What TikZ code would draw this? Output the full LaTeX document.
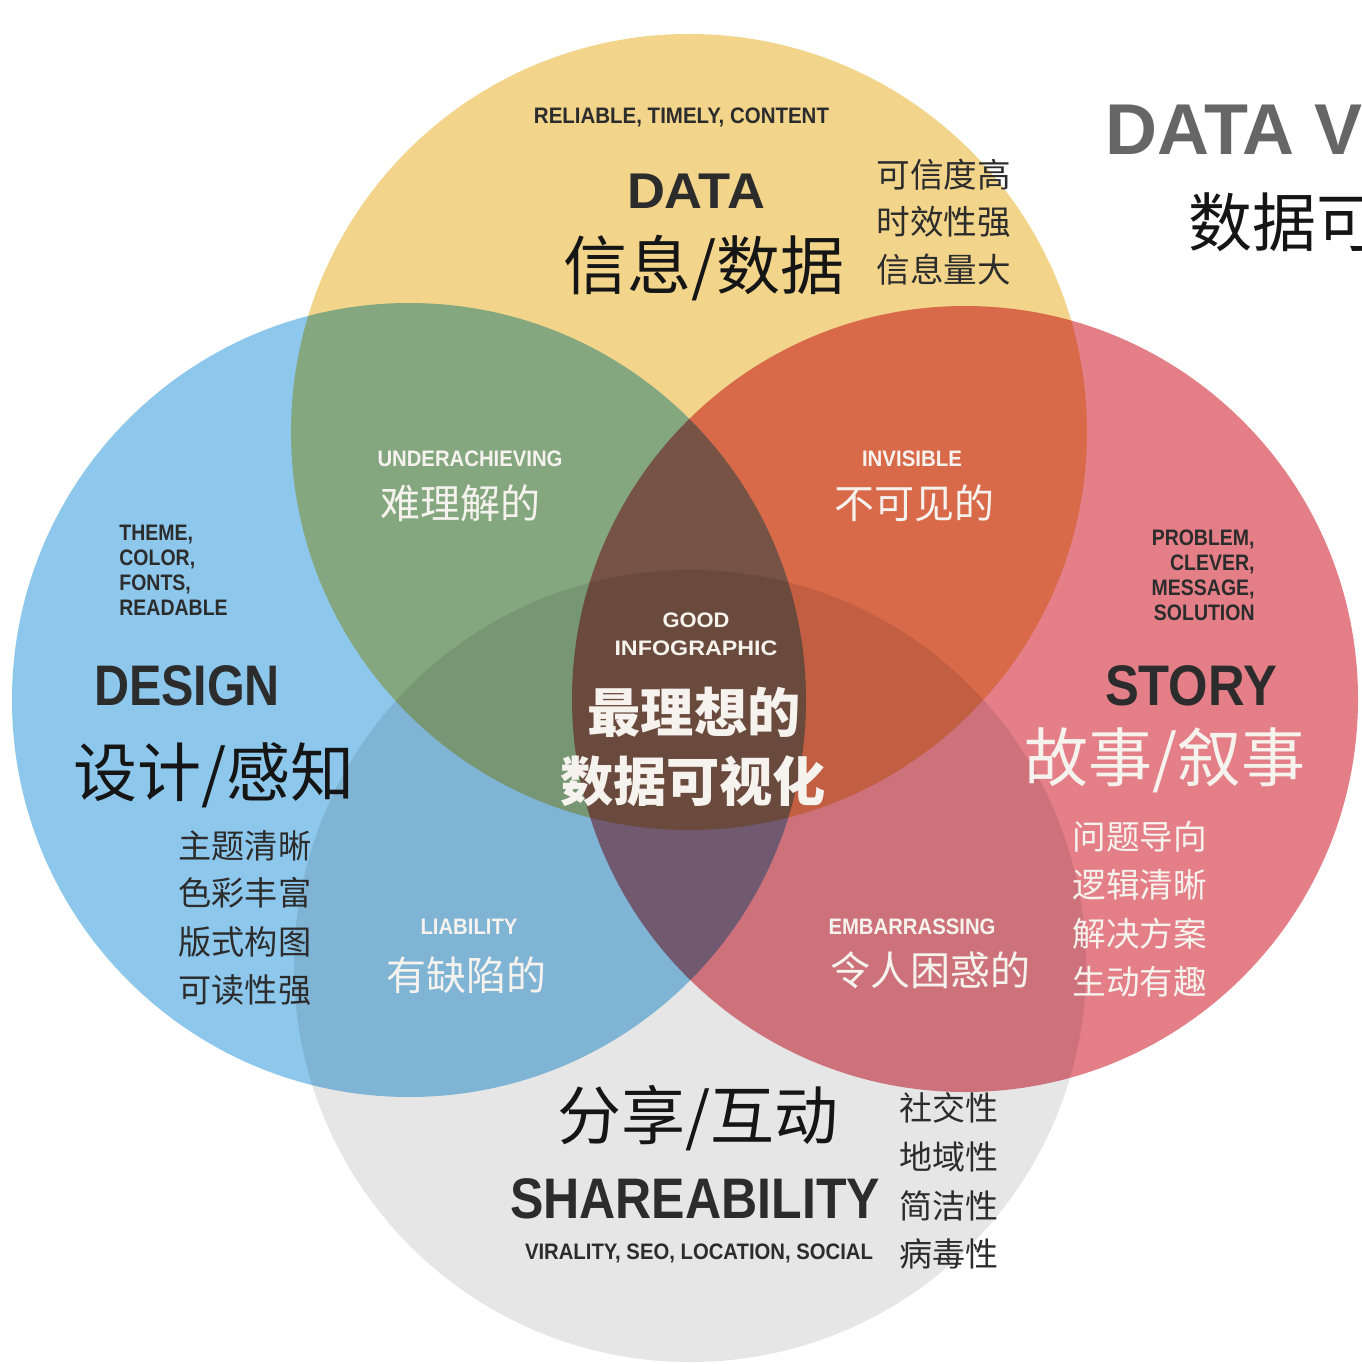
\documentclass[tikz,border=0pt]{standalone}
\usepackage{fontspec}
\usepackage{graphicx}
\setmainfont{Liberation Sans}
\newfontfamily\cjk{Noto Sans CJK SC}
\definecolor{cyel}{HTML}{F2D58B}
\definecolor{cblu}{HTML}{8DC8EC}
\definecolor{cred}{HTML}{E47F88}
\definecolor{cgry}{HTML}{E6E6E6}
\definecolor{txtd}{HTML}{2C2C2C}
\definecolor{txtk}{HTML}{151515}
\definecolor{txtw}{HTML}{F6F3EF}
\definecolor{txtg}{HTML}{666666}
\newcommand\fitw[2]{\resizebox{#1}{\height}{#2}}
\tikzset{
  venn/.style={circle, inner sep=0pt, minimum size=#1},
  en/.style={inner sep=0pt, anchor=base},
  sm/.style={en, font=\bfseries\fontsize{11.2}{13}\selectfont},
  big/.style={en, font=\bfseries\fontsize{28.6}{32}\selectfont},
  zh/.style={inner sep=0pt, font=\cjk\fontsize{#1}{#1}\selectfont},
  zhb/.style={inner sep=0pt, font=\cjk\bfseries\fontsize{#1}{#1}\selectfont},
}
\begin{document}
\begin{tikzpicture}[x=0.5pt,y=-0.5pt]
\useasboundingbox (0,0) rectangle (1361,1364);
\clip (0,0) rectangle (1361,1364);
\fill[white] (0,0) rectangle (1361,1364);
\begin{scope}[blend group=multiply]
  \node[venn=398pt, fill=cyel] (cdata) at (689,432) {};
  \node[venn=397pt, fill=cblu] (cdesign) at (409,700) {};
  \node[venn=393pt, fill=cred] (cstory) at (965,699) {};
  \node[venn=396pt, fill=cgry] (cshare) at (690,966) {};
\end{scope}

% DATA
\node[sm, text=txtd] (rel) at (681.5,124) {\fitw{147.5pt}{RELIABLE, TIMELY, CONTENT}};
\node[en, font=\bfseries\fontsize{25.1}{28}\selectfont, text=txtd] (data) at (696,208) {\fitw{69pt}{DATA}};
\node[zh=32, text=txtk] (datazh) at (704,268) {信息/数据};
\node[zh=16.8, anchor=west, text=txtd] (d1) at (876,175) {可信度高};
\node[zh=16.8, anchor=west, text=txtd] (d2) at (876,222) {时效性强};
\node[zh=16.8, anchor=west, text=txtd] (d3) at (876,270) {信息量大};

% title
\node[en, anchor=base west, font=\bfseries\fontsize{36}{40}\selectfont, text=txtg] (title) at (1105,155) {DATA V};
\node[zh=32, anchor=west, text=txtk] (titlezh) at (1188,222) {数据可};

% DATA-DESIGN, DATA-STORY
\node[sm, text=txtw] (under) at (470,466) {\fitw{92.5pt}{UNDERACHIEVING}};
\node[zh=20, text=txtw] (underzh) at (460,503) {难理解的};
\node[sm, text=txtw] (invis) at (912,466) {\fitw{50pt}{INVISIBLE}};
\node[zh=20, text=txtw] (inviszh) at (914,503) {不可见的};

% DESIGN
\node[sm, anchor=base west, text=txtd] (t1) at (119,540) {\scalebox{0.87}[1]{THEME,}};
\node[sm, anchor=base west, text=txtd] (t2) at (119,565) {\scalebox{0.87}[1]{COLOR,}};
\node[sm, anchor=base west, text=txtd] (t3) at (119,590) {\scalebox{0.87}[1]{FONTS,}};
\node[sm, anchor=base west, text=txtd] (t4) at (119,615) {\scalebox{0.87}[1]{READABLE}};
\node[big, text=txtd] (design) at (187,705) {\fitw{93pt}{DESIGN}};
\node[zh=32, text=txtk] (designzh) at (214,775) {设计/感知};
\node[zh=16.6, anchor=west, text=txtd] (g1) at (178,846) {主题清晰};
\node[zh=16.6, anchor=west, text=txtd] (g2) at (178,893) {色彩丰富};
\node[zh=16.6, anchor=west, text=txtd] (g3) at (178,942) {版式构图};
\node[zh=16.6, anchor=west, text=txtd] (g4) at (178,990) {可读性强};

% STORY
\node[sm, anchor=base east, text=txtd] (p1) at (1255,545) {\scalebox{0.87}[1]{PROBLEM,}};
\node[sm, anchor=base east, text=txtd] (p2) at (1255,570) {\scalebox{0.87}[1]{CLEVER,}};
\node[sm, anchor=base east, text=txtd] (p3) at (1255,595) {\scalebox{0.87}[1]{MESSAGE,}};
\node[sm, anchor=base east, text=txtd] (p4) at (1255,620) {\scalebox{0.87}[1]{SOLUTION}};
\node[big, text=txtd] (story) at (1191,705) {\fitw{86pt}{STORY}};
\node[zh=32, text=txtw] (storyzh) at (1165,760) {故事/叙事};
\node[zh=16.8, anchor=west, text=txtw] (s1) at (1072,837) {问题导向};
\node[zh=16.8, anchor=west, text=txtw] (s2) at (1072,885) {逻辑清晰};
\node[zh=16.8, anchor=west, text=txtw] (s3) at (1072,934) {解决方案};
\node[zh=16.8, anchor=west, text=txtw] (s4) at (1072,982) {生动有趣};

% centre
\node[en, font=\bfseries\fontsize{10.5}{12}\selectfont, text=txtw] (good) at (696,627) {\fitw{33.5pt}{GOOD}};
\node[en, font=\bfseries\fontsize{10.5}{12}\selectfont, text=txtw] (info) at (696,655) {\fitw{81.5pt}{INFOGRAPHIC}};
\node[zhb=26.6, text=txtw] (best1) at (694,712) {最理想的};
\node[zhb=26.6, text=txtw] (best2) at (693,781) {数据可视化};

% lower overlaps
\node[sm, text=txtw] (liab) at (469,934) {\fitw{48.5pt}{LIABILITY}};
\node[zh=20, text=txtw] (liabzh) at (466,975) {有缺陷的};
\node[sm, text=txtw] (emb) at (912,934) {\fitw{83.5pt}{EMBARRASSING}};
\node[zh=20, text=txtw] (embzh) at (930,970) {令人困惑的};

% SHAREABILITY
\node[zh=32, text=txtk] (sharezh) at (698,1118) {分享/互动};
\node[big, text=txtd] (share) at (695,1218) {\fitw{185pt}{SHAREABILITY}};
\node[sm, text=txtd] (vir) at (699,1259) {\fitw{174pt}{VIRALITY, SEO, LOCATION, SOCIAL}};
\node[zh=16.5, anchor=west, text=txtd] (h1) at (899,1108) {社交性};
\node[zh=16.5, anchor=west, text=txtd] (h2) at (899,1157) {地域性};
\node[zh=16.5, anchor=west, text=txtd] (h3) at (899,1206) {简洁性};
\node[zh=16.5, anchor=west, text=txtd] (h4) at (899,1254) {病毒性};
\end{tikzpicture}
\end{document}
